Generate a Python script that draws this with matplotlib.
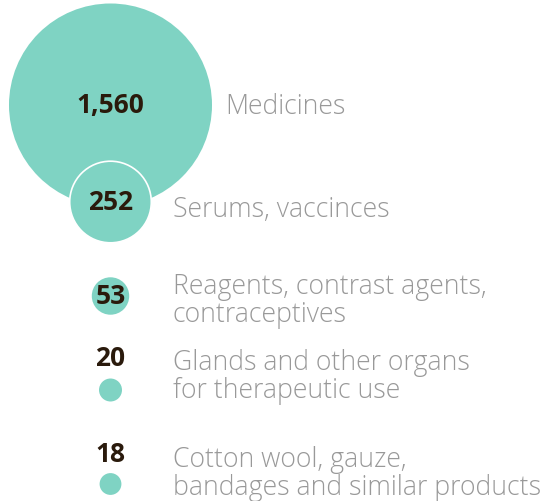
import matplotlib
matplotlib.use("Agg")
import matplotlib.pyplot as plt
from matplotlib.patches import Circle
import numpy as np

categories = [
    "Medicines",
    "Serums, vaccinces",
    "Reagents, contrast agents,\ncontraceptives",
    "Glands and other organs\nfor therapeutic use",
    "Cotton wool, gauze,\nbandages and similar products",
]
values = [1560, 252, 53, 20, 18]
value_labels = ["1,560", "252", "53", "20", "18"]

TEAL = "#7fd3c3"
NUM_COLOR = "#2a1a0c"
LABEL_COLOR = "#999999"

W, H = 546, 501
fig = plt.figure(figsize=(W / 100, H / 100), dpi=100)
ax = fig.add_axes([0, 0, 1, 1])
ax.set_xlim(0, W)
ax.set_ylim(H, 0)
ax.set_aspect("equal")
ax.axis("off")

# circle area proportional to value
r_max = 101.5
radii = [r_max * np.sqrt(v / values[0]) for v in values]

cx = 110.5
centers_y = [105, 202, 296, 390, 484]
label_x = [225, 173, 173, 173, 173]
label_y = [107, 210, 301, 377, 474]
num_y = [105, 202, 296, 359, 454]

for i, (v, r, cy) in enumerate(zip(values, radii, centers_y)):
    ec = "white" if i == 1 else "none"
    ax.add_patch(Circle((cx, cy), r, facecolor=TEAL, edgecolor=ec,
                        linewidth=1.2, zorder=2 + i))

for lab, ny in zip(value_labels, num_y):
    ax.text(cx, ny, lab, ha="center", va="center", fontsize=19,
            fontweight="bold", color=NUM_COLOR, family="Open Sans",
            zorder=10)

for cat, lx, ly in zip(categories, label_x, label_y):
    ax.text(lx, ly, cat, ha="left", va="center", fontsize=19.2,
            fontweight=300, color=LABEL_COLOR, family="Open Sans",
            linespacing=0.98, zorder=10)

fig.savefig("out.png", dpi=100)
